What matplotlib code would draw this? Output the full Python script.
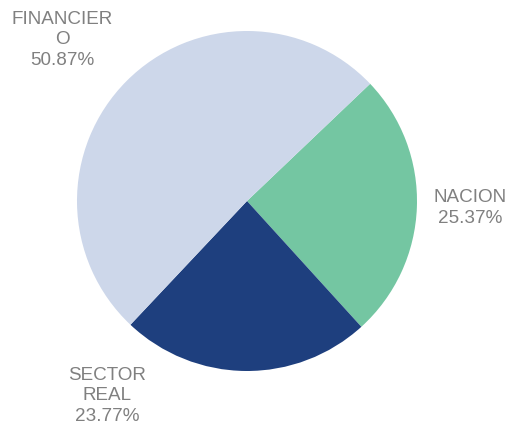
import matplotlib.pyplot as plt

categories = ['NACION', 'SECTOR\nREAL', 'FINANCIER\nO']
shares = [25.37, 23.77, 50.87]
colors = ['#74c6a2', '#1e3f7e', '#cdd7ea']

# label anchor points in pixel coords (x, y from top)
label_pos = [(470, 208), (107, 396), (62, 40)]

fig = plt.figure(figsize=(5.09, 4.30), dpi=100)
ax = fig.add_axes([0, 0, 1, 1])

ax.pie(shares, colors=colors, startangle=43.6, counterclock=False,
       center=(247, 229), radius=170, frame=True,
       wedgeprops=dict(linewidth=0))
ax.set_xlim(0, 509)
ax.set_ylim(0, 430)
ax.set_aspect('equal')
ax.axis('off')

for cat, v, (x, y) in zip(categories, shares, label_pos):
    ax.text(x, 430 - y, f'{cat}\n{v:.2f}%', ha='center', va='center',
            fontsize=13.6, color='#808080', family='Liberation Sans',
            linespacing=1.28)

fig.savefig('out.png', dpi=100)
